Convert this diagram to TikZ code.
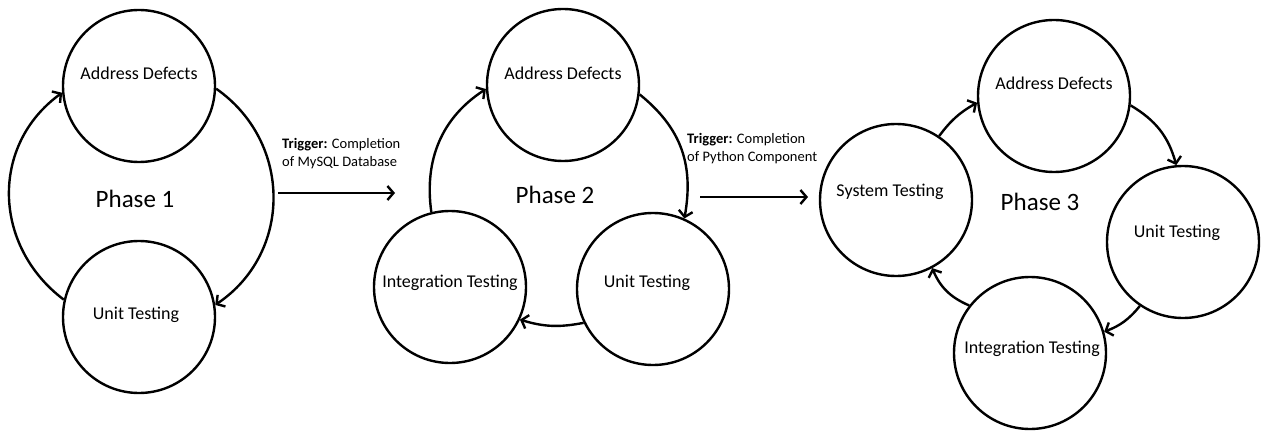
\documentclass[tikz,border=0pt]{standalone}
\usepackage{fontspec}
\setmainfont{Carlito}
\usetikzlibrary{arrows.meta}

\begin{document}
\begin{tikzpicture}[x=1pt,y=1pt,
  stage/.style={draw, circle, line width=2.4pt, minimum size=152pt, inner sep=0pt},
  stagetext/.style={font=\fontsize{18}{21}\selectfont, inner sep=0pt},
  phasetext/.style={font=\fontsize{25}{29}\selectfont, inner sep=0pt},
  trigtext/.style={font=\fontsize{14.5}{18}\selectfont, align=left, anchor=west, inner sep=0pt},
  flow/.style={line width=2.4pt, -{Straight Barb[length=6pt,width=14pt]}},
]
\useasboundingbox[fill=white] (0,0) rectangle (1262,432);

% ---------- Phase 1 ----------
\node[stage] (a1) at (139,346) {};
\node[stage] (u1) at (139,115) {};
\node[stagetext] (a1t) at (139,359) {Address Defects};
\node[stagetext] (u1t) at (136,117) {Unit Testing};
\node[phasetext] (p1) at (135,233) {Phase 1};
\draw[flow] (u1.167) to[out=143,in=216,looseness=1.1] (a1.185);
\draw[flow] (a1.-2) to[out=-35,in=34,looseness=1.1] (u1.9);

% trigger between phase 1 and phase 2
\node[trigtext] (t1) at (282,278) {\textbf{Trigger:} Completion\\of MySQL Database};
\coordinate (t1s) at (278,239);
\coordinate (t1e) at (395,239);
\draw[flow] (t1s) -- (t1e);

% ---------- Phase 2 ----------
\node[stage] (a2) at (563,347) {};
\node[stage] (i2) at (450,145) {};
\node[stage] (u2) at (653,143) {};
\node[stagetext] (a2t) at (563,359) {Address Defects};
\node[stagetext] (i2t) at (450,149) {Integration Testing};
\node[stagetext] (u2t) at (647,149) {Unit Testing};
\node[phasetext] (p2) at (555,237) {Phase 2};
\draw[flow] (i2.104) to[out=98,in=213] (a2.183);
\draw[flow] (a2.-7) to[out=-39,in=80,looseness=1.05] (u2.66);
\draw[flow] (u2.206) to[out=191,in=-17] (i2.-25);

% trigger between phase 2 and phase 3
\node[trigtext] (t2) at (687,283) {\textbf{Trigger:} Completion\\of Python Component};
\coordinate (t2s) at (700,235);
\coordinate (t2e) at (808,235);
\draw[flow] (t2s) -- (t2e);

% ---------- Phase 3 ----------
\node[stage] (a3) at (1054,336) {};
\node[stage] (s3) at (896,232) {};
\node[stage] (u3) at (1183,190) {};
\node[stage] (i3) at (1030,79) {};
\node[stagetext] (a3t) at (1054,349) {Address Defects};
\node[stagetext] (s3t) at (890,240) {System Testing};
\node[stagetext] (u3t) at (1177,199) {Unit Testing};
\node[stagetext] (i3t) at (1032,83) {Integration Testing};
\node[phasetext] (p3) at (1040,230) {Phase 3};
\draw[flow] (s3.56) to[bend left=12] (a3.185);
\draw[flow] (a3.-7) to[bend left=22] (u3.95);
\draw[flow] (u3.236) to[bend left=15] (i3.16);
\draw[flow] (i3.142) to[bend left=22] (s3.-62);
\end{tikzpicture}
\end{document}
